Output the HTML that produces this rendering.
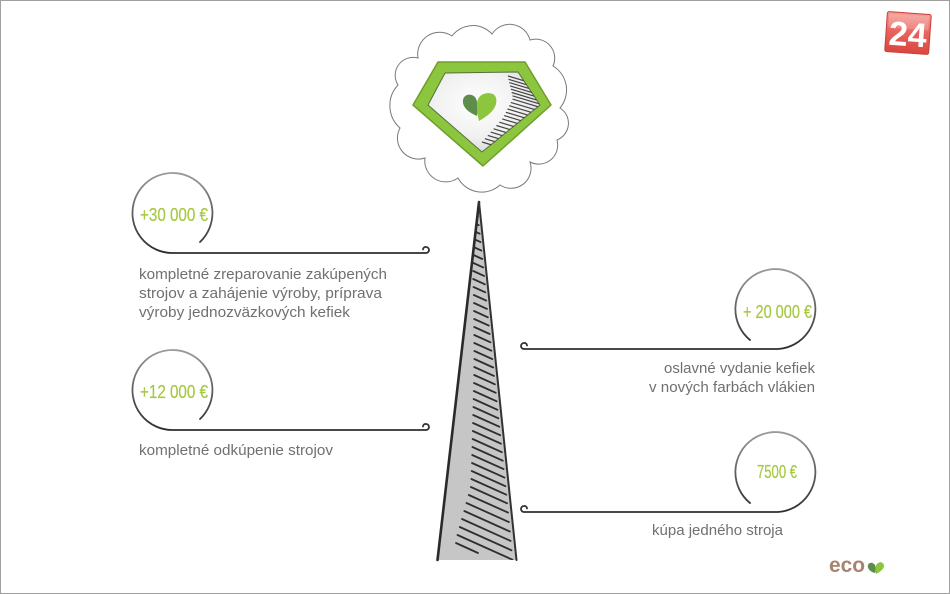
<!DOCTYPE html>
<html><head><meta charset="utf-8"><style>
html,body{margin:0;padding:0;background:#fff;}
svg{display:block;}
</style></head><body>
<svg width="950" height="594" viewBox="0 0 950 594" xmlns="http://www.w3.org/2000/svg">
<defs>
<linearGradient id="cg" x1="0" y1="0" x2="0" y2="1">
<stop offset="0" stop-color="#9a9a9a"/><stop offset="0.6" stop-color="#555"/><stop offset="1" stop-color="#2e2e2e"/>
</linearGradient>
<clipPath id="tri"><polygon points="479,203 437,560 517,560"/></clipPath>
<clipPath id="ginc"><polygon points="445,73 518,72 540,105 482,152 428,105"/></clipPath>
<radialGradient id="gin" cx="0.45" cy="0.4" r="0.7">
<stop offset="0" stop-color="#ffffff"/><stop offset="0.6" stop-color="#f0f0f0"/><stop offset="1" stop-color="#d2d2d2"/>
</radialGradient>
<linearGradient id="red" x1="0" y1="0" x2="0" y2="1">
<stop offset="0" stop-color="#f49a93"/><stop offset="0.5" stop-color="#e8625c"/><stop offset="1" stop-color="#d9473f"/>
</linearGradient>
</defs>

<rect x="0.5" y="0.5" width="949" height="593" fill="#fff" stroke="#a0a0a0" stroke-width="1"/>

<path d="M418,58 A22 22 0 0 1 452,36 A26 26 0 0 1 492,34 A21 21 0 0 1 530,40 A19 19 0 0 1 553,66 A28 28 0 0 1 560,108 A18 18 0 0 1 557,140 A19 19 0 0 1 530,162 A20 20 0 0 1 500,185 A27 27 0 0 1 458,178 A21 21 0 0 1 425,158 A21 21 0 0 1 400,128 A30 30 0 0 1 398,85 A18 18 0 0 1 418,58 Z" fill="#fff" stroke="#7a7a7a" stroke-width="1"/>

<polygon points="438,62 525,62 551,105 483,166 413,105" fill="#8cc63e" stroke="#6f9e2c" stroke-width="1.5" stroke-linejoin="round"/>
<polygon points="445,73 518,72 540,105 482,152 428,105" fill="url(#gin)" stroke="#55703a" stroke-width="1"/>
<g clip-path="url(#ginc)" stroke="#444" stroke-width="1.2">
<line x1="508" y1="76" x2="548" y2="88"/>
<line x1="508.5" y1="79.3" x2="548.5" y2="91.3"/>
<line x1="509.3" y1="82.6" x2="549.3" y2="94.6"/>
<line x1="510.1" y1="85.9" x2="550.1" y2="97.9"/>
<line x1="510.9" y1="89.2" x2="550.9" y2="101.2"/>
<line x1="511.7" y1="92.5" x2="551.7" y2="104.5"/>
<line x1="512.5" y1="95.8" x2="552.5" y2="107.8"/>
<line x1="512.5" y1="99.1" x2="552.5" y2="111.1"/>
<line x1="510.8" y1="102.4" x2="550.8" y2="114.4"/>
<line x1="509.2" y1="105.7" x2="549.2" y2="117.7"/>
<line x1="507.5" y1="109" x2="547.5" y2="121"/>
<line x1="505.9" y1="112.3" x2="545.9" y2="124.3"/>
<line x1="504.2" y1="115.6" x2="544.2" y2="127.6"/>
<line x1="502.2" y1="118.9" x2="542.2" y2="130.9"/>
<line x1="499.3" y1="122.2" x2="539.3" y2="134.2"/>
<line x1="496.4" y1="125.5" x2="536.4" y2="137.5"/>
<line x1="493.6" y1="128.8" x2="533.6" y2="140.8"/>
<line x1="490.7" y1="132.1" x2="530.7" y2="144.1"/>
<line x1="487.8" y1="135.4" x2="527.8" y2="147.4"/>
<line x1="484.9" y1="138.7" x2="524.9" y2="150.7"/>
<line x1="482" y1="142" x2="522" y2="154"/>
</g>
<path d="M477,116 C470,113 462,108 463,100 C464,94 471,93 475,97 C478,101 478,109 477,116 Z" fill="#5e8c4a"/>
<path d="M479,121 C477,113 476,104 478,99 C481,93 488,92 493,94 C498,97 497,105 493,110 C489,115 484,118 479,121 Z" fill="#8cc63e"/>

<polygon points="479,203 437,560 517,560" fill="#c6c6c6"/>
<g clip-path="url(#tri)" stroke="#2e2e2e" stroke-width="1.8" stroke-linecap="round">
<line x1="473.9" y1="215" x2="477.9" y2="216.8"/>
<line x1="473.8" y1="223" x2="478.8" y2="225.2"/>
<line x1="473.8" y1="231" x2="479.7" y2="233.7"/>
<line x1="473.7" y1="239" x2="480.6" y2="242.1"/>
<line x1="473.5" y1="247" x2="481.4" y2="250.6"/>
<line x1="473.5" y1="255" x2="482.3" y2="259"/>
<line x1="473.4" y1="263" x2="483.2" y2="267.4"/>
<line x1="473.3" y1="271" x2="484.1" y2="275.9"/>
<line x1="473.2" y1="279" x2="484.9" y2="284.3"/>
<line x1="473.5" y1="287" x2="485.3" y2="292.3"/>
<line x1="473.8" y1="295" x2="486.2" y2="300.6"/>
<line x1="474" y1="303" x2="487" y2="308.9"/>
<line x1="474" y1="311" x2="487.9" y2="317.3"/>
<line x1="474.2" y1="319" x2="488.8" y2="325.6"/>
<line x1="474.2" y1="327" x2="489.7" y2="334"/>
<line x1="474.3" y1="335" x2="490.5" y2="342.3"/>
<line x1="474.3" y1="343" x2="491.4" y2="350.7"/>
<line x1="474.4" y1="351" x2="492.3" y2="359.1"/>
<line x1="474.4" y1="359" x2="493.2" y2="367.5"/>
<line x1="474.2" y1="367" x2="494" y2="375.9"/>
<line x1="474.2" y1="375" x2="494.9" y2="384.3"/>
<line x1="474" y1="383" x2="495.8" y2="392.8"/>
<line x1="473.8" y1="391" x2="496.7" y2="401.3"/>
<line x1="473.6" y1="399" x2="497.5" y2="409.8"/>
<line x1="473.4" y1="407" x2="498.4" y2="418.3"/>
<line x1="473.2" y1="415" x2="499.3" y2="426.7"/>
<line x1="473" y1="423" x2="500.2" y2="435.2"/>
<line x1="472.8" y1="431" x2="501" y2="443.7"/>
<line x1="472.6" y1="439" x2="501.9" y2="452.2"/>
<line x1="472.4" y1="447" x2="502.8" y2="460.7"/>
<line x1="472.2" y1="455" x2="503.6" y2="469.1"/>
<line x1="472" y1="463" x2="504.5" y2="477.6"/>
<line x1="471.7" y1="471" x2="505.4" y2="486.2"/>
<line x1="471.4" y1="479" x2="506.3" y2="494.7"/>
<line x1="470.9" y1="487" x2="507.1" y2="503.3"/>
<line x1="468.8" y1="495" x2="508" y2="512.6"/>
<line x1="466.5" y1="503" x2="508.9" y2="522.1"/>
<line x1="464.3" y1="511" x2="509.8" y2="531.5"/>
<line x1="462" y1="519" x2="510.6" y2="540.9"/>
<line x1="459.8" y1="527" x2="511.5" y2="550.3"/>
<line x1="457.5" y1="535" x2="512.4" y2="559.7"/>
<line x1="456" y1="543" x2="478" y2="553"/>
</g>
<line x1="479" y1="202" x2="437.5" y2="560" stroke="#2a2a2a" stroke-width="2.6" stroke-linecap="round"/>
<line x1="479" y1="202" x2="516.5" y2="560" stroke="#333" stroke-width="2" stroke-linecap="round"/>

<g fill="none" stroke="url(#cg)" stroke-width="1.8" stroke-linecap="round">
<path d="M200,242 A40 40 0 1 0 173,253 L426,253 A3 3 0 0 0 426,247 A2.5 2.5 0 0 0 423,249.5"/>
<path d="M200,419 A40 40 0 1 0 173,430 L426,430 A3 3 0 0 0 426,424 A2.5 2.5 0 0 0 423,426.5"/>
<path d="M750,340 A40 40 0 1 1 778,349 L524,349 A3 3 0 0 1 524,343 A2.5 2.5 0 0 1 527,345.5"/>
<path d="M750,503 A40 40 0 1 1 778,512 L524,512 A3 3 0 0 1 524,506 A2.5 2.5 0 0 1 527,508.5"/>
</g>

<g font-family="'Liberation Sans', sans-serif" font-size="18" fill="#a5c940" stroke="#a5c940" stroke-width="0.2">
<text x="140" y="221" textLength="68" lengthAdjust="spacingAndGlyphs">+30 000 €</text>
<text x="140" y="398" textLength="68" lengthAdjust="spacingAndGlyphs">+12 000 €</text>
<text x="743" y="318" textLength="69" lengthAdjust="spacingAndGlyphs">+ 20 000 €</text>
<text x="757" y="478" textLength="40" lengthAdjust="spacingAndGlyphs">7500 €</text>
</g>

<g font-family="'Liberation Sans', sans-serif" font-size="14.5" fill="#707070">
<text x="139" y="279" textLength="248" lengthAdjust="spacingAndGlyphs">kompletné zreparovanie zakúpených</text>
<text x="139" y="298" textLength="243" lengthAdjust="spacingAndGlyphs">strojov a zahájenie výroby, príprava</text>
<text x="139" y="317" textLength="211" lengthAdjust="spacingAndGlyphs">výroby jednozväzkových kefiek</text>
<text x="139" y="455" textLength="194" lengthAdjust="spacingAndGlyphs">kompletné odkúpenie strojov</text>
<text x="664" y="373" textLength="151" lengthAdjust="spacingAndGlyphs">oslavné vydanie kefiek</text>
<text x="649" y="392" textLength="166" lengthAdjust="spacingAndGlyphs">v nových farbách vlákien</text>
<text x="652" y="535" textLength="131" lengthAdjust="spacingAndGlyphs">kúpa jedného stroja</text>
</g>

<g transform="rotate(4 908 33)">
<rect x="886" y="13" width="44" height="40" rx="2" fill="url(#red)" stroke="#c9403a" stroke-width="1"/>
<rect x="888" y="15" width="40" height="14" rx="1" fill="#fff" opacity="0.18"/>
<text x="908" y="46" text-anchor="middle" font-family="'Liberation Sans', sans-serif" font-weight="bold" font-size="34" fill="#fff" textLength="38" lengthAdjust="spacingAndGlyphs">24</text>
</g>

<text x="829" y="572" font-family="'Liberation Sans', sans-serif" font-size="21" font-weight="bold" fill="#a8836f" textLength="36" lengthAdjust="spacingAndGlyphs">eco</text>
<path d="M875,573 C870,572 867,568 868,565 C869,562 873,562 875,565 C876,568 876,571 875,573 Z" fill="#5e8c4a"/>
<path d="M876,574 C875,569 875,565 878,563 C881,561 884,563 884,566 C884,569 880,572 876,574 Z" fill="#8cc63e"/>
</svg>
</body></html>
